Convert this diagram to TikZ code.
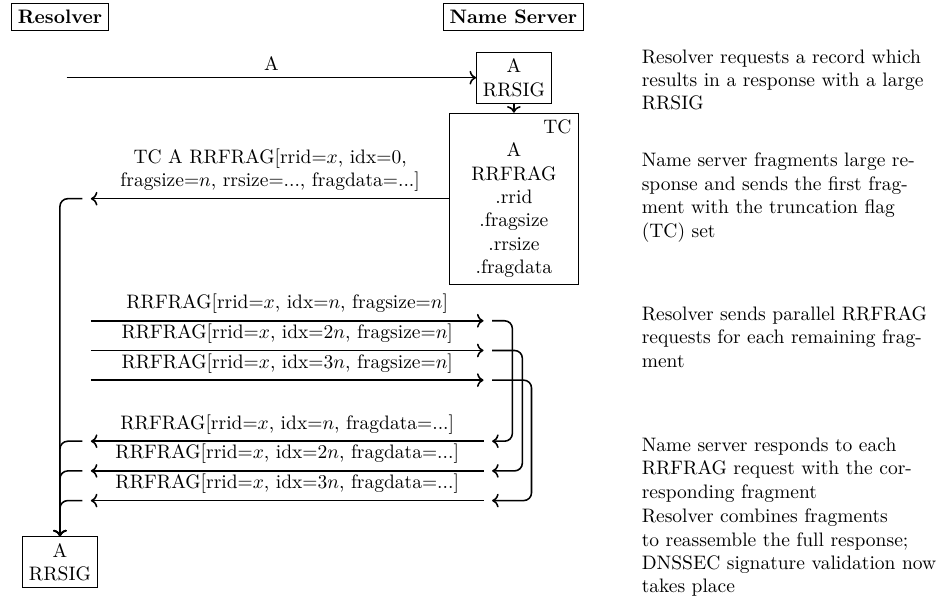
\documentclass[tikz,border=0pt]{standalone}
\usepackage{tikz}
\usetikzlibrary{arrows.meta, positioning}

\begin{document}
\begin{tikzpicture}[
    header/.style={rectangle, draw=black, font=\bfseries},
    msgbox/.style={rectangle, draw=black, align=center},
    gap/.style={inner sep=2pt},
    arrow/.style={->, thick},
    note/.style={anchor=west, text width=#1, align=left},
    note/.default=5.2cm
]
\useasboundingbox (0,0) rectangle (16.92,-10.99);

% Lifeline headers
\node[header] at (1.08,-0.31) (res) {Resolver};
\node[header] at (9.25,-0.31) (ns) {Name Server};

% Records on the name server side
\node[msgbox] at (9.26,-1.4) (rrsig) {A\\RRSIG};
\node[msgbox, minimum width=2.31cm] at (9.26,-3.58) (frag)
      {\phantom{TC}\\A\\RRFRAG\\.rrid\\.fragsize\\.rrsize\\.fragdata};
\node[anchor=north east] at (frag.north east) (tc) {TC};

% Reassembled record at the resolver
\node[msgbox] at (1.08,-10.13) (final) {A\\RRSIG};

% Turning points
\coordinate (q0) at (1.2,-1.4);
\node[gap] at (1.56,-3.58) (l0) {};
\foreach \i/\y in {1/-5.78, 2/-6.315, 3/-6.85} {
    \node[gap] at (1.56,\y) (ql\i) {};
    \node[gap] at (8.79,\y) (qr\i) {};
}
\foreach \i/\y in {1/-7.95, 2/-8.485, 3/-9.02} {
    \node[gap] at (1.56,\y) (pl\i) {};
    \node[gap] at (8.79,\y) (pr\i) {};
}

% First query and truncated answer
\draw[arrow] (q0) -- node[above] {A} (q0 -| rrsig.west);
\draw[arrow] (rrsig) -- (frag);
\draw[arrow] (frag.west) -- node[above, align=center]
      {TC A RRFRAG[rrid=$x$, idx=0,\\fragsize=$n$, rrsize=..., fragdata=...]} (l0);

% Parallel RRFRAG requests
\foreach \i/\k in {1/n, 2/2n, 3/3n}
    \draw[arrow] (ql\i) -- node[above] {RRFRAG[rrid=$x$, idx=$\k$, fragsize=$n$]} (qr\i);

% Server turns each request around
\foreach \i/\dx in {1/0.365, 2/0.545, 3/0.71}
    \draw[arrow, rounded corners] (qr\i.east) -- ++(\dx,0) |- (pr\i.east);

% Fragment responses
\foreach \i/\k in {1/n, 2/2n, 3/3n}
    \draw[arrow] (pr\i) -- node[above] {RRFRAG[rrid=$x$, idx=$\k$, fragdata=...]} (pl\i);

% Resolver collects everything
\foreach \p in {l0, pl1, pl2, pl3}
    \draw[arrow, rounded corners] (\p.west) -| (final.north);

% Notes
\node[note] at (11.44,-1.44) (n1) {Resolver requests a record which results in a response with a large RRSIG};
\node[note] at (11.44,-3.56) (n2) {Name server fragments large response and sends the first fragment with the truncation flag (TC) set};
\node[note] at (11.44,-6.07) (n3) {Resolver sends parallel RRFRAG requests for each remaining fragment};
\node[note=5cm] at (11.44,-8.47) (n4) {Name server responds to each RRFRAG request with the corresponding fragment};
\node[note=5.5cm] at (11.44,-9.96) (n5) {Resolver combines fragments to reassemble the full response; DNSSEC signature validation now takes place};

\end{tikzpicture}
\end{document}
